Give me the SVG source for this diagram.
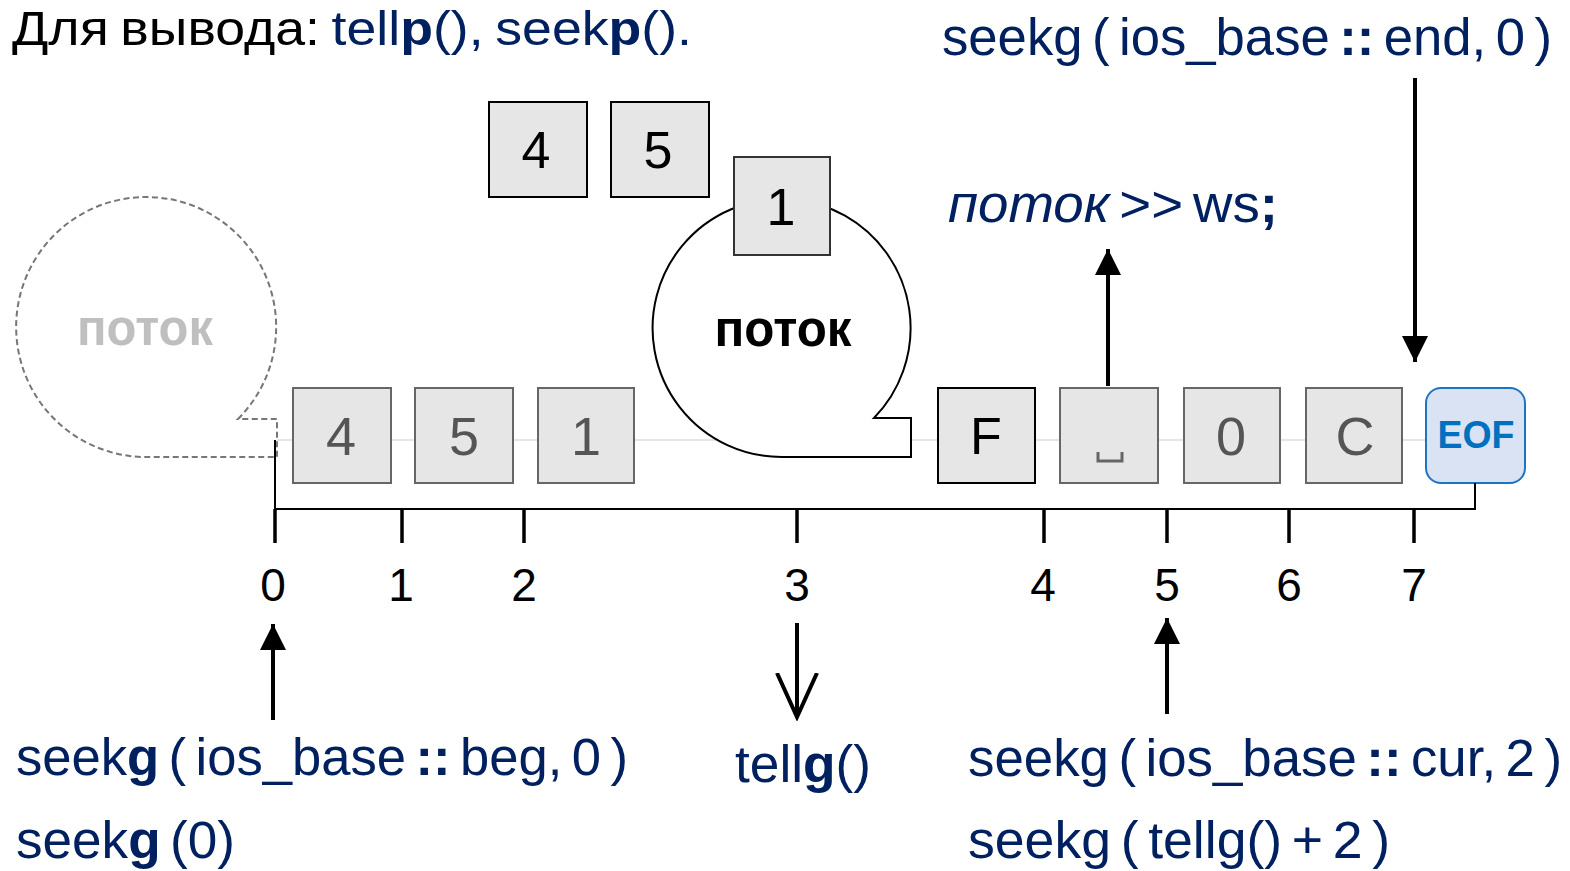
<svg xmlns="http://www.w3.org/2000/svg" width="1570" height="871" viewBox="0 0 1570 871">
<style>
text{font-family:"Liberation Sans",Arial,sans-serif}
.code{fill:#002060;font-size:51px;word-spacing:-5px}
.b{font-weight:bold}
.box{fill:#e6e6e6;stroke:#666;stroke-width:2}
.boxk{fill:#e6e6e6;stroke:#000;stroke-width:2}
.dg{fill:#555;font-size:54px;text-anchor:middle}
.dk{fill:#000;font-size:52px;text-anchor:middle}
.num{fill:#000;font-size:46px;text-anchor:middle}
.tick{stroke:#000;stroke-width:3.5}
.arr{stroke:#000;stroke-width:4;fill:none}
</style>
<defs>
<marker id="ah" viewBox="0 0 10 10" refX="10" refY="5" markerWidth="6.5" markerHeight="6.5" markerUnits="strokeWidth" orient="auto"><path d="M0,0 L10,5 L0,10 z" fill="#000"/></marker>
<marker id="av" viewBox="0 0 12 12" refX="11" refY="6" markerWidth="12" markerHeight="12" markerUnits="strokeWidth" orient="auto"><path d="M0,1 L11,6 L0,11" fill="none" stroke="#000" stroke-width="1"/></marker>
</defs>
<rect width="1570" height="871" fill="#fff"/>

<g id="title">
<text x="12" y="45" font-size="49" textLength="680" lengthAdjust="spacingAndGlyphs" style="word-spacing:-3px"><tspan fill="#000">Для вывода: </tspan><tspan fill="#002060">tell</tspan><tspan fill="#002060" font-weight="bold">p</tspan><tspan fill="#002060">(), seek</tspan><tspan fill="#002060" font-weight="bold">p</tspan><tspan fill="#002060">().</tspan></text>
</g>

<g id="baseline-guide"><line x1="277" y1="440" x2="1428" y2="440" stroke="#ddd" stroke-width="1.5"/></g>

<g id="stream-ghost">
<path d="M238,419 A130,130 0 1 0 146,457 L277,457 L277,419 Z" fill="none" stroke="#777" stroke-width="2" stroke-dasharray="6,3.5"/>
<text x="145" y="345" font-size="52" font-weight="bold" fill="#bfbfbf" text-anchor="middle" textLength="136" lengthAdjust="spacingAndGlyphs">поток</text>
</g>

<g id="stream">
<path d="M874,418 A129,129 0 1 0 782,457 L911,457 L911,418 Z" fill="#fff" stroke="#000" stroke-width="2"/>
<text x="783" y="346" font-size="52" font-weight="bold" fill="#000" text-anchor="middle" textLength="137" lengthAdjust="spacingAndGlyphs">поток</text>
</g>

<g id="top-4"><rect class="boxk" x="489" y="102" width="98" height="95"/><text class="dk" x="536" y="168">4</text></g>
<g id="top-5"><rect class="boxk" x="611" y="102" width="98" height="95"/><text class="dk" x="658" y="168">5</text></g>
<g id="top-1"><rect class="box" x="734" y="157" width="96" height="98" style="stroke:#333"/><text class="dk" x="781" y="225">1</text></g>

<g id="cell-4"><rect class="box" x="293" y="388" width="98" height="95"/><text class="dg" x="341" y="455">4</text></g>
<g id="cell-5"><rect class="box" x="415" y="388" width="98" height="95"/><text class="dg" x="464" y="455">5</text></g>
<g id="cell-1"><rect class="box" x="538" y="388" width="96" height="95"/><text class="dg" x="586" y="455">1</text></g>
<g id="cell-F"><rect class="boxk" x="938" y="388" width="97" height="95"/><text class="dk" x="986" y="454" fill="#000">F</text></g>
<g id="cell-space"><rect class="box" x="1060" y="388" width="98" height="95"/><path d="M1098,452 V461 H1122 V452" fill="none" stroke="#666" stroke-width="3"/></g>
<g id="cell-0"><rect class="box" x="1184" y="388" width="96" height="95"/><text class="dg" x="1231" y="455">0</text></g>
<g id="cell-C"><rect class="box" x="1306" y="388" width="96" height="95"/><text class="dg" x="1355" y="455">C</text></g>
<g id="cell-EOF"><rect x="1426" y="388" width="99" height="95" rx="15" fill="#dae3f3" stroke="#1c74c4" stroke-width="2"/><text x="1476" y="448" font-size="38" font-weight="bold" fill="#0070c0" text-anchor="middle" textLength="77" lengthAdjust="spacingAndGlyphs">EOF</text></g>

<g id="axis">
<path d="M275,440 V509 H1475 V483" fill="none" stroke="#000" stroke-width="2"/>
<line class="tick" x1="275" y1="509" x2="275" y2="543"/>
<line class="tick" x1="402" y1="509" x2="402" y2="543"/>
<line class="tick" x1="524" y1="509" x2="524" y2="543"/>
<line class="tick" x1="797" y1="509" x2="797" y2="543"/>
<line class="tick" x1="1044" y1="509" x2="1044" y2="543"/>
<line class="tick" x1="1167" y1="509" x2="1167" y2="543"/>
<line class="tick" x1="1289" y1="509" x2="1289" y2="543"/>
<line class="tick" x1="1414" y1="509" x2="1414" y2="543"/>
<text class="num" x="273" y="601">0</text>
<text class="num" x="401" y="601">1</text>
<text class="num" x="524" y="601">2</text>
<text class="num" x="797" y="601">3</text>
<text class="num" x="1043" y="601">4</text>
<text class="num" x="1167" y="601">5</text>
<text class="num" x="1289" y="601">6</text>
<text class="num" x="1414" y="601">7</text>
</g>

<g id="connectors">
<line class="arr" x1="1108" y1="386" x2="1108" y2="249" marker-end="url(#ah)"/>
<line class="arr" x1="1415" y1="78" x2="1415" y2="362" marker-end="url(#ah)"/>
<line class="arr" x1="273" y1="720" x2="273" y2="624" stroke-width="3.5" marker-end="url(#ah)"/>
<line class="arr" x1="797" y1="623" x2="797" y2="717" stroke-width="2.5" marker-end="url(#av)"/>
<line class="arr" x1="1167" y1="714" x2="1167" y2="618" stroke-width="3.5" marker-end="url(#ah)"/>
</g>

<g id="label-end"><text class="code" x="942" y="55" textLength="610" lengthAdjust="spacingAndGlyphs">seekg ( ios_base <tspan class="b">::</tspan> end, 0 )</text></g>
<g id="label-ws"><text class="code" x="948" y="222" textLength="330" lengthAdjust="spacingAndGlyphs"><tspan font-style="italic">поток</tspan> &gt;&gt; ws<tspan class="b">;</tspan></text></g>
<g id="label-beg"><text class="code" x="16" y="775" textLength="612" lengthAdjust="spacingAndGlyphs">seek<tspan class="b">g</tspan> ( ios_base <tspan class="b">::</tspan> beg, 0 )</text></g>
<g id="label-seek0"><text class="code" x="16" y="858" textLength="219" lengthAdjust="spacingAndGlyphs">seek<tspan class="b">g</tspan> (0)</text></g>
<g id="label-tellg"><text class="code" x="735" y="782" textLength="136" lengthAdjust="spacingAndGlyphs">tell<tspan class="b">g</tspan>()</text></g>
<g id="label-cur"><text class="code" x="968" y="776" textLength="594" lengthAdjust="spacingAndGlyphs">seekg ( ios_base <tspan class="b">::</tspan> cur, 2 )</text></g>
<g id="label-tellg2"><text class="code" x="968" y="858" textLength="422" lengthAdjust="spacingAndGlyphs">seekg ( tellg() + 2 )</text></g>
</svg>
